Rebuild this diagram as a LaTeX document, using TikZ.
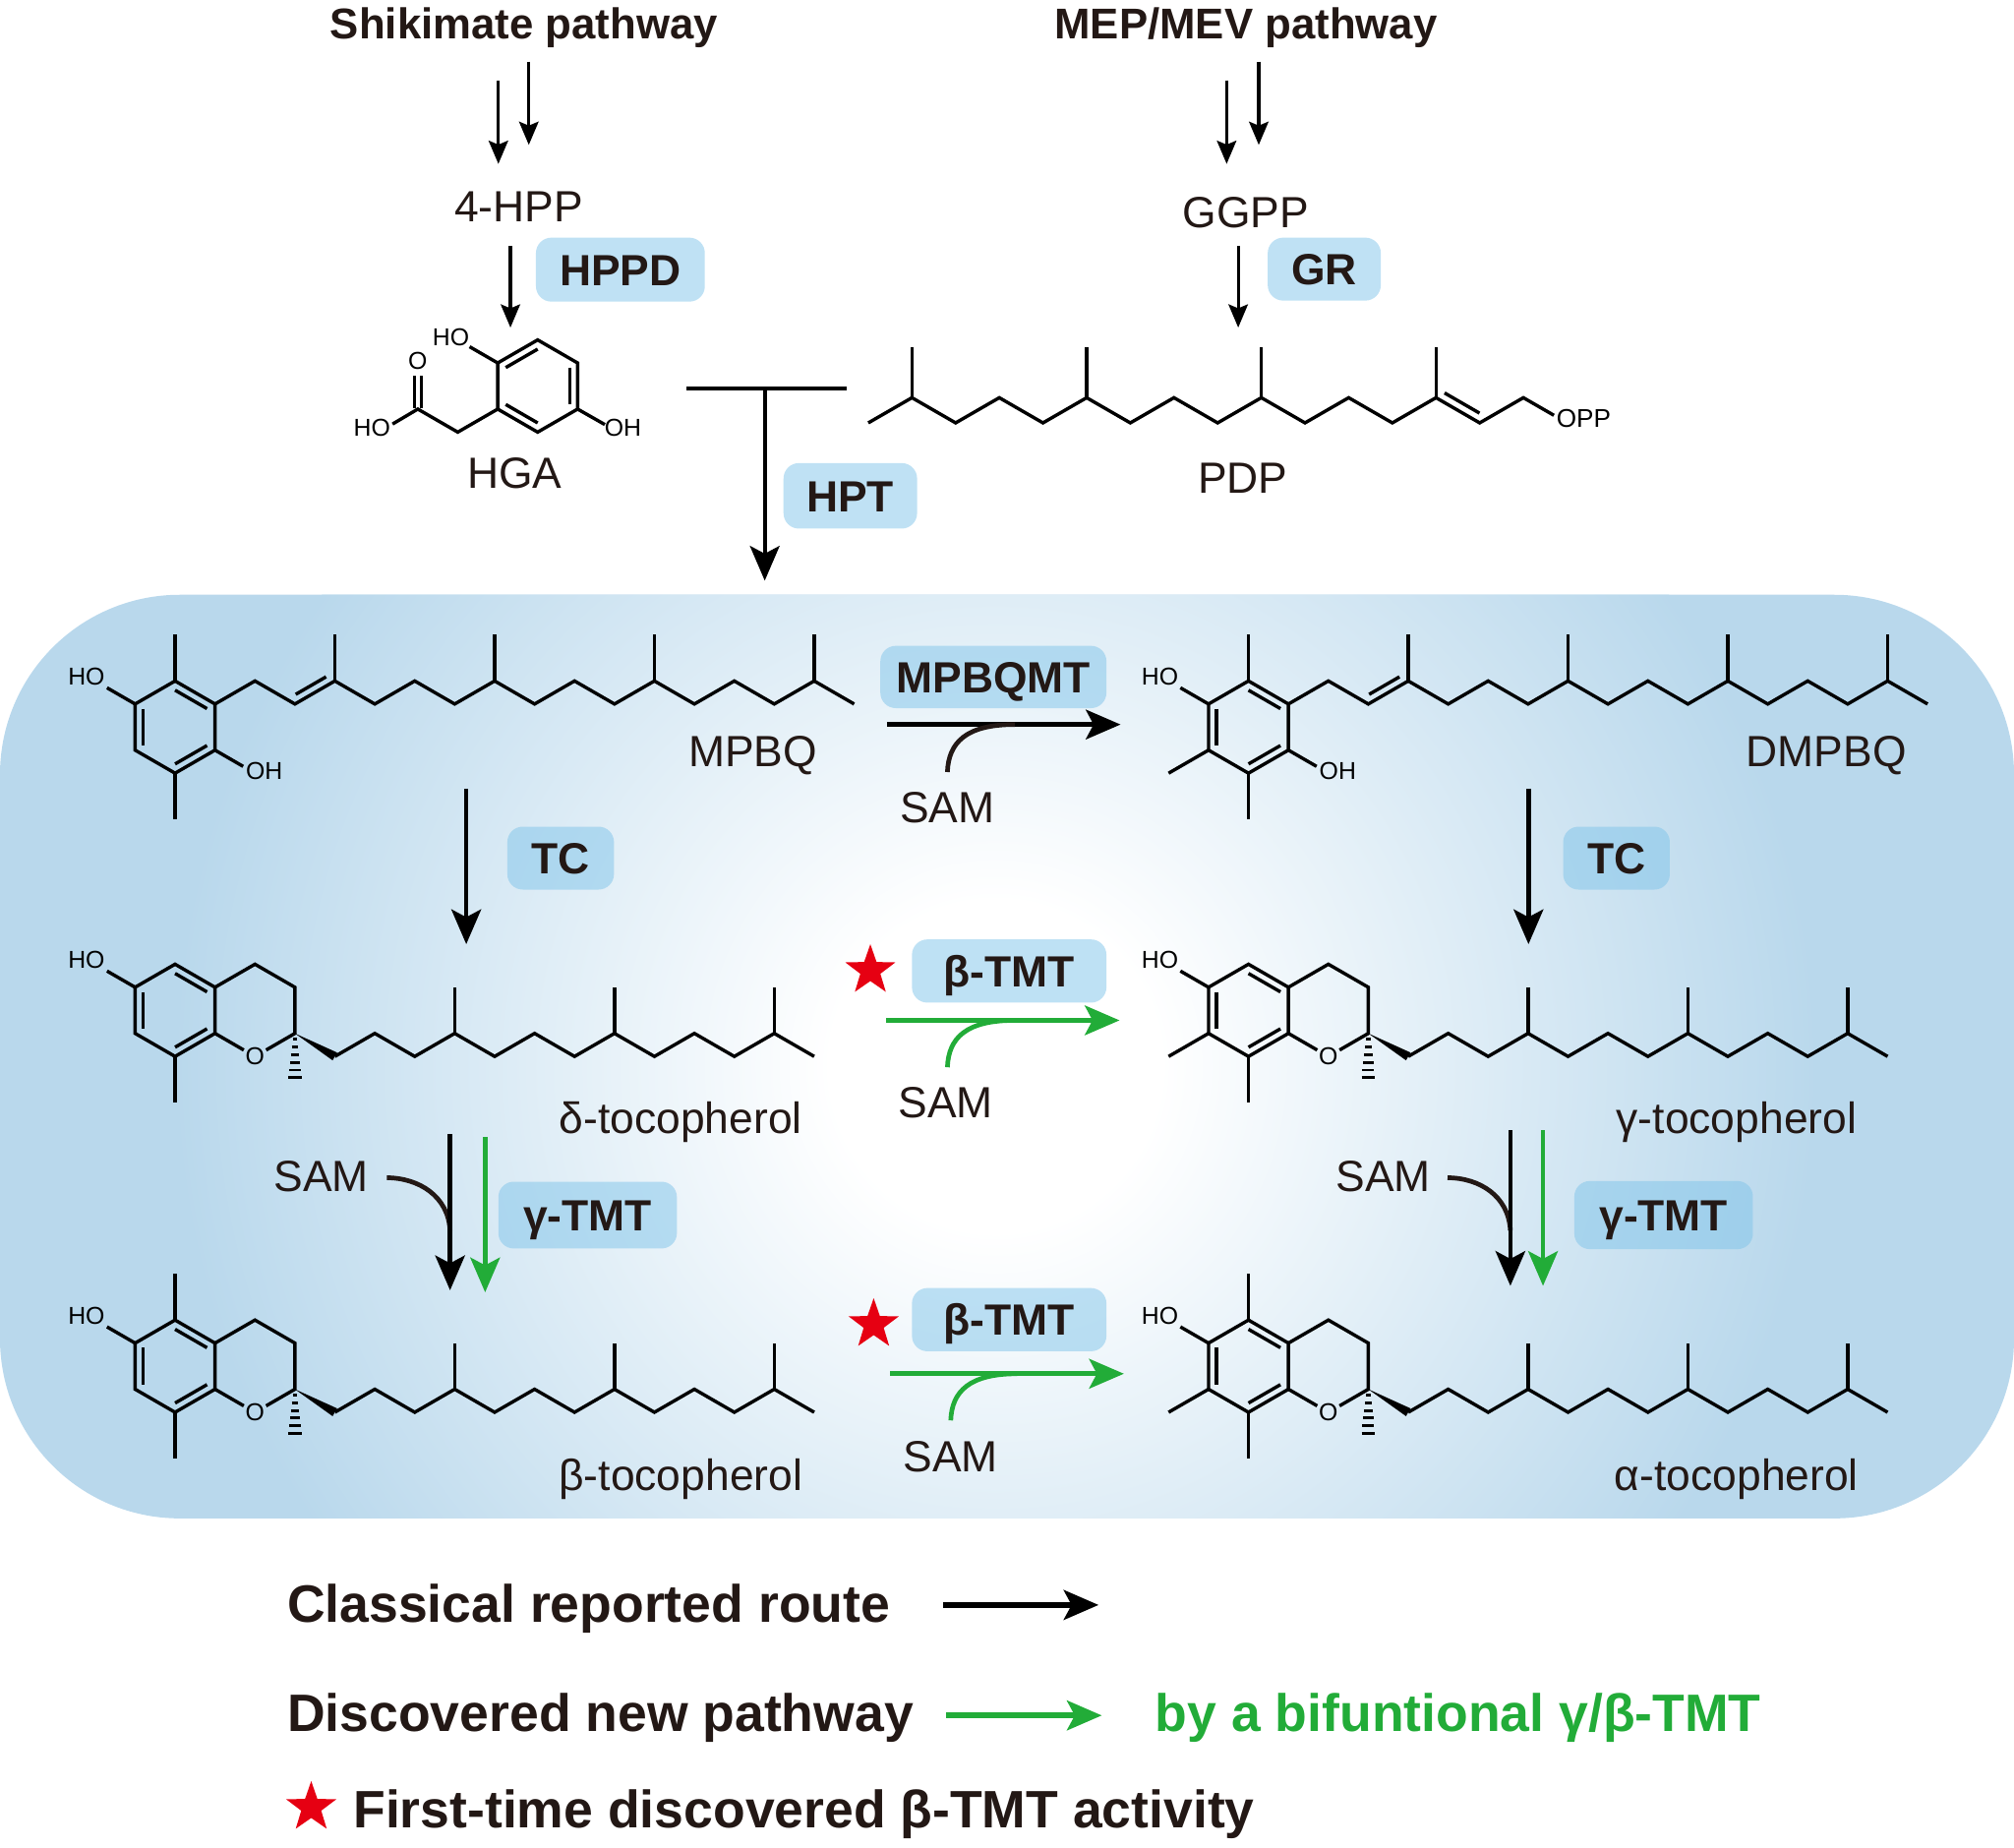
\documentclass[tikz,border=0pt]{standalone}
\usepackage{fontspec}
\setmainfont{Liberation Sans}
\usetikzlibrary{arrows.meta,shapes.geometric}
\definecolor{ink}{HTML}{231815}
\definecolor{grn}{HTML}{22AC38}
\definecolor{starred}{HTML}{E60012}
\definecolor{bgblue}{HTML}{B9D8EC}
\definecolor{boxblue}{HTML}{7FC4EA}
\pgfdeclareradialshading{bgrad}{\pgfpoint{0bp}{0bp}}{color(0bp)=(white); color(5bp)=(white); color(25bp)=(bgblue); color(50bp)=(bgblue)}
\newcommand{\fsz}[1]{\fontsize{#1}{#1}\selectfont}
\newcommand{\ringQ}{%
  \draw[bond] (0,-35.9) -- (31.1,-17.95) -- (31.1,17.95) -- (0,35.9) -- (-31.1,17.95) -- (-31.1,-17.95) -- cycle;
  \draw[bond] (-24.88,-14.36) -- (-24.88,14.36);
  \draw[bond] (0,-28.72) -- (24.88,-14.36);
  \draw[bond] (24.88,14.36) -- (0,28.72);
  \draw[bond] (-31.1,-17.95) -- (-53,-30.6);
  \node[atom] (-ho) at (-69,-39.5) {HO};
}
\tikzset{
  bond/.style={line width=2.6pt, draw=black},
  atom/.style={font=\fsz{19}, text=black, inner sep=0pt},
  lbl/.style={font=\fsz{34}, text=ink, inner sep=0pt, anchor=base},
  ttl/.style={font=\bfseries\fsz{33.5}, text=ink, inner sep=0pt, anchor=base},
  enz/.style={rounded corners=12pt, fill=boxblue, fill opacity=0.5, text opacity=1, text=ink,
    font=\bfseries\fsz{34}, text height=24.3pt, text depth=0pt, inner sep=0pt},
  arr/.style={line width=3.6pt, draw=black, -{Stealth[length=27pt,width=23pt,inset=6pt]}},
  garr/.style={arr, draw=grn, -{Stealth[length=27pt,width=23pt,inset=6pt,fill=grn]}},
  sarr/.style={line width=2.6pt, draw=black, -{Stealth[length=18pt,width=15pt,inset=3pt]}},
  sam/.style={line width=3.6pt, draw=ink},
  gsam/.style={line width=3.6pt, draw=grn},
  starnode/.style={star, star points=5, star point ratio=2.5, fill=starred, draw=none, minimum size=41pt, inner sep=0pt},
  leg/.style={font=\bfseries\fsz{41}, text=ink, inner sep=0pt, anchor=base west},
  quinol/.pic={
    \ringQ
    \draw[bond] (31.1,17.95) -- (53,30.6);
    \node[atom] (-oh) at (69.5,34.5) {OH};
    \draw[bond] (0,-35.9) -- (0,-71.8);
    \draw[bond] (0,35.9) -- (0,71.8);
    \draw[bond] (31.1,-17.95) \foreach \kk in {1,...,16}{ -- ({31.1+31.1*\kk},{-26.925+8.975*cos(180*\kk)}) };
    \foreach \kk in {3,7,11,15}{ \draw[bond] ({31.1+31.1*\kk},-35.9) -- ++(0,-35.9); }
    \draw[bond] (93.93,-25.47) -- (117.57,-39.12);
  },
  chroman/.pic={
    \ringQ
    \draw[bond] (31.1,-17.95) -- (62.2,-35.9) -- (93.3,-17.95) -- (93.3,17.95) -- (70.9,30.9);
    \draw[bond] (31.1,17.95) -- (53.5,30.9);
    \node[atom] (-o) at (62.2,35.9) {O};
    \fill (93.3,17.95) -- (122.65,38.93) -- (126.15,32.87) -- cycle;
    \foreach \hh/\ww in {4.5/1.8,10.5/2.5,16.5/3.2,22.5/3.9,28.5/4.6,34.5/5.3}{
      \draw[line width=2.2pt] ({93.3-\ww},{17.95+\hh}) -- ({93.3+\ww},{17.95+\hh}); }
    \draw[bond] (0,35.9) -- (0,71.8);
    \draw[bond] (124.4,35.9) \foreach \kk in {1,...,12}{ -- ({124.4+31.1*\kk},{26.925+8.975*cos(180*\kk)}) };
    \foreach \kk in {3,7,11}{ \draw[bond] ({124.4+31.1*\kk},17.95) -- ++(0,-35.9); }
  },
}
\begin{document}
\begin{tikzpicture}[x=1pt,y=-1pt]
\useasboundingbox (0,0) rectangle (1568,1438);
% background
\fill[bgblue, rounded corners=140pt] (0,463) rectangle (1568,1182);
\begin{scope}
  \clip[rounded corners=140pt] (0,463) rectangle (1568,1182);
  \shade[shading=bgrad] (775,830) circle (640pt);
\end{scope}

% titles
\node[ttl] (shik) at (408,30) {Shikimate pathway};
\node[ttl] (mep) at (970,30) {MEP/MEV pathway};

% top double arrows
\coordinate (s1a) at (388,62.5);   \coordinate (s1b) at (388,127.6);
\coordinate (s2a) at (411.7,48);   \coordinate (s2b) at (411.7,112.8);
\coordinate (m1a) at (955,62.5);   \coordinate (m1b) at (955,127.6);
\coordinate (m2a) at (980,48);     \coordinate (m2b) at (980,112.8);
\draw[sarr] (s1a) -- (s1b);
\draw[sarr] (s2a) -- (s2b);
\draw[sarr] (m1a) -- (m1b);
\draw[sarr] (m2a) -- (m2b);

\node[lbl] (hpp) at (403.8,172.3) {4-HPP};
\node[lbl] (ggpp) at (970,177) {GGPP};

\coordinate (h1a) at (397.4,191.4); \coordinate (h1b) at (397.4,255);
\coordinate (g1a) at (964,191.4);   \coordinate (g1b) at (964,255);
\draw[sarr, line width=2.4pt] (h1a) -- (h1b);
\draw[sarr, line width=2.4pt] (g1a) -- (g1b);
\node[enz, minimum width=131.5pt, minimum height=49.8pt] (hppd) at (483,209.9) {HPPD};
\node[enz, minimum width=88pt, minimum height=49pt] (gr) at (1031,209.5) {GR};

% HGA
\begin{scope}[shift={(418.6,300.5)}]
  \draw[bond] (0,-35.9) -- (31.1,-17.95) -- (31.1,17.95) -- (0,35.9) -- (-31.1,17.95) -- (-31.1,-17.95) -- cycle;
  \draw[bond] (-24.88,-14.36) -- (0,-28.72);
  \draw[bond] (24.88,-14.36) -- (24.88,14.36);
  \draw[bond] (-24.88,14.36) -- (0,28.72);
  \draw[bond] (-31.1,-17.95) -- (-53,-30.6);
  \node[atom] (hgaho) at (-67.6,-37.6) {HO};
  \draw[bond] (31.1,17.95) -- (52.3,30);
  \node[atom] (hgaoh) at (66.4,32.5) {OH};
  \draw[bond] (-31.1,17.95) -- (-62.2,35.9) -- (-93.3,17.95) -- (-113,29.6);
  \node[atom] (hgaho2) at (-129,32.6) {HO};
  \draw[bond] (-96,17) -- (-96,-8);
  \draw[bond] (-90.6,17) -- (-90.6,-8);
  \node[atom] (hgao) at (-93.3,-19.7) {O};
\end{scope}
\node[lbl] (hga) at (400.7,380.3) {HGA};

% PDP
\draw[bond] (676,329.2) \foreach \kk in {1,...,15}{ -- ({676+34*\kk},{319.4+9.8*cos(180*\kk)}) } -- (1209.8,323.3);
\foreach \kk in {1,5,9,13}{ \draw[bond] ({676+34*\kk},309.6) -- ++(0,-39.3); }
\draw[bond] (1124.65,305.9) -- (1151.85,321.6);
\node[atom, font=\fsz{20}, anchor=base west] (opp) at (1211.6,332.3) {OPP};
\node[lbl] (pdp) at (967.5,384) {PDP};

% HPT
\coordinate (ta) at (534.4,302.6); \coordinate (tb) at (658.9,302.6);
\coordinate (tc) at (595.4,302.6); \coordinate (td) at (595.4,452);
\draw[line width=3.2pt] (ta) -- (tb);
\draw[arr, line width=3pt] (tc) -- (td);
\node[enz, minimum width=104pt, minimum height=51pt] (hpt) at (662,386) {HPT};

% molecules
\pic (mpbq) at (136.3,566) {quinol};
\pic (dmpbq) at (972,566) {quinol};
\draw[bond] (940.9,583.95) -- (909.8,601.9);
\node[lbl] (mpbql) at (586,596.7) {MPBQ};
\node[lbl] (dmpbql) at (1422,596.7) {DMPBQ};

\pic (dtoc) at (136.3,786.5) {chroman};
\pic (gtoc) at (972,786.5) {chroman};
\draw[bond] (940.9,804.45) -- (909.8,822.4);
\pic (btoc) at (136.3,1063.5) {chroman};
\draw[bond] (136.3,1027.6) -- (136.3,991.7);
\pic (atoc) at (972,1063.5) {chroman};
\draw[bond] (972,1027.6) -- (972,991.7);
\draw[bond] (940.9,1081.45) -- (909.8,1099.4);
\node[lbl] (dtocl) at (530,882) {δ-tocopherol};
\node[lbl] (gtocl) at (1352,882) {γ-tocopherol};
\node[lbl] (btocl) at (530,1160) {β-tocopherol};
\node[lbl] (atocl) at (1352,1160) {α-tocopherol};

% MPBQMT step
\node[enz, minimum width=176pt, minimum height=48.5pt] (mpbqmt) at (773.4,527) {MPBQMT};
\coordinate (q1) at (690.4,564); \coordinate (q2) at (872.4,564);
\draw[arr] (q1) -- (q2);
\coordinate (qs) at (737.6,601); \coordinate (qj) at (790,564);
\draw[sam] (qs) .. controls (738.5,578) and (752,564) .. (qj);
\node[lbl] (sam1) at (737.6,640.6) {SAM};

% TC steps
\coordinate (c1a) at (363,614); \coordinate (c1b) at (363,735);
\coordinate (c2a) at (1190,614); \coordinate (c2b) at (1190,735);
\draw[arr] (c1a) -- (c1b);
\draw[arr] (c2a) -- (c2b);
\node[enz, minimum width=83pt, minimum height=49pt] (tc1) at (436.5,668) {TC};
\node[enz, minimum width=83pt, minimum height=49pt] (tc2) at (1258.5,668) {TC};

% beta-TMT upper
\node[starnode] (star1) at (677.6,755.5) {};
\node[enz, minimum width=151.4pt, minimum height=49.2pt] (btmt1) at (785.7,755.9) {β-TMT};
\coordinate (b1a) at (690,794.3); \coordinate (b1b) at (871.6,794.3);
\draw[garr] (b1a) -- (b1b);
\coordinate (b1s) at (737.6,830.8); \coordinate (b1j) at (790,794.3);
\draw[gsam] (b1s) .. controls (738.5,808) and (752,794.3) .. (b1j);
\node[lbl] (sam2) at (736.3,870.4) {SAM};

% beta-TMT lower
\node[starnode] (star2) at (680.2,1031.1) {};
\node[enz, minimum width=151.4pt, minimum height=49.2pt] (btmt2) at (785.7,1027.3) {β-TMT};
\coordinate (b2a) at (693,1069.4); \coordinate (b2b) at (875,1069.4);
\draw[garr] (b2a) -- (b2b);
\coordinate (b2s) at (740.2,1105.7); \coordinate (b2j) at (792,1069.4);
\draw[gsam] (b2s) .. controls (741,1083) and (755,1069.4) .. (b2j);
\node[lbl] (sam3) at (740,1145.5) {SAM};

% gamma-TMT left
\coordinate (l1a) at (350.4,883); \coordinate (l1b) at (350.4,1004.4);
\coordinate (l2a) at (377.7,885); \coordinate (l2b) at (377.7,1006);
\coordinate (lsa) at (301.2,916.8); \coordinate (lsb) at (350.4,958);
\draw[sam] (lsa) .. controls (326,917) and (349,931) .. (lsb);
\draw[arr] (l1a) -- (l1b);
\draw[garr] (l2a) -- (l2b);
\node[lbl] (sam4) at (250.1,927.8) {SAM};
\node[enz, minimum width=139pt, minimum height=52pt] (gtmt1) at (457.5,945.9) {γ-TMT};

% gamma-TMT right
\coordinate (r1a) at (1175.9,880); \coordinate (r1b) at (1175.9,1001);
\coordinate (r2a) at (1201.3,880); \coordinate (r2b) at (1201.3,1001);
\coordinate (rsa) at (1127,916.8); \coordinate (rsb) at (1175.9,958);
\draw[sam] (rsa) .. controls (1152,917) and (1174.5,931) .. (rsb);
\draw[arr] (r1a) -- (r1b);
\draw[garr] (r2a) -- (r2b);
\node[lbl] (sam5) at (1077,927.8) {SAM};
\node[enz, minimum width=139pt, minimum height=53pt] (gtmt2) at (1295.2,945.9) {γ-TMT};

% legend
\node[leg] (leg1) at (223.4,1263) {Classical reported route};
\coordinate (la1) at (734.3,1249.4); \coordinate (la2) at (855.3,1249.4);
\draw[arr, line width=4.6pt] (la1) -- (la2);
\node[leg] (leg2) at (223.4,1347.6) {Discovered new pathway};
\coordinate (lg1) at (736.6,1335.4); \coordinate (lg2) at (857.8,1335.4);
\draw[garr, line width=4.6pt] (lg1) -- (lg2);
\node[leg, text=grn] (leg3) at (899.3,1347.6) {by a bifuntional γ/β-TMT};
\node[starnode] (star3) at (242.3,1407) {};
\node[leg] (leg4) at (274.9,1423) {First-time discovered β-TMT activity};
\end{tikzpicture}
\end{document}
